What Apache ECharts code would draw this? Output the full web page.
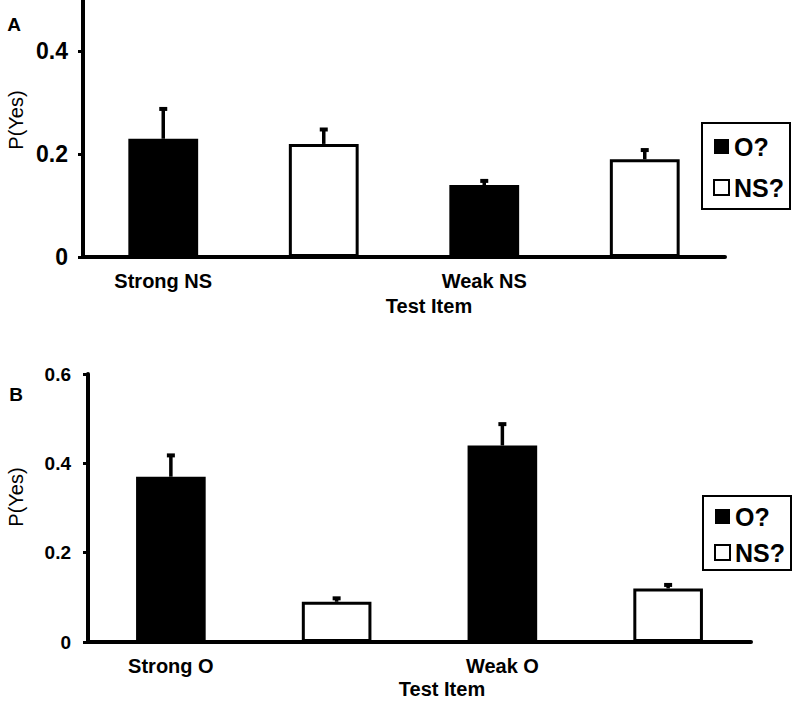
<!DOCTYPE html>
<html>
<head>
<meta charset="utf-8">
<script src="https://cdn.jsdelivr.net/npm/echarts@6/dist/echarts.min.js"></script>
<style>html,body{margin:0;padding:0;background:#fff;}#c{width:800px;height:701px;}</style>
</head>
<body>
<div id="c"></div>
<script>
// Panel A data
const catsA = ['Strong NS', '', 'Weak NS', ''];
const oValsA = [0.23, '-', 0.14, '-'];
const nsValsA = ['-', 0.22, '-', 0.19];
const errTopA = [0.29, 0.25, 0.15, 0.21];
const yTicksA = [0, 0.2, 0.4];

// Panel B data
const catsB = ['Strong O', '', 'Weak O', ''];
const oValsB = [0.37, '-', 0.44, '-'];
const nsValsB = ['-', 0.09, '-', 0.12];
const errTopB = [0.42, 0.10, 0.49, 0.13];
const yTicksB = [0, 0.2, 0.4, 0.6];

const FONT = 'Liberation Sans, Arial, sans-serif';

function barVal(o, n, i) { return o[i] !== '-' ? o[i] : n[i]; }
function errData(o, n, e) { return e.map((t, i) => [i, barVal(o, n, i), t]); }

function renderErr(params, api) {
  const base = api.coord([api.value(0), api.value(1)]);
  const top = api.coord([api.value(0), api.value(2)]);
  return {
    type: 'group',
    children: [
      { type: 'line', shape: { x1: base[0], y1: base[1], x2: top[0], y2: top[1] + 2 },
        style: { stroke: '#000', lineWidth: 3.5 } },
      { type: 'rect', shape: { x: top[0] - 4, y: top[1] - 1, width: 8, height: 4 },
        style: { fill: '#000' } }
    ]
  };
}

const axisLine = { show: true, lineStyle: { color: '#000', width: 4 } };

function xAxis(grid, cats) {
  return {
    type: 'category', gridIndex: grid, data: cats,
    axisLine: axisLine, axisTick: { show: false },
    axisLabel: { color: '#000', fontFamily: FONT, fontWeight: 'bold', fontSize: 20, margin: 14, interval: 0 }
  };
}
function yAxis(grid, max, ticks, fs, margin) {
  return {
    type: 'value', gridIndex: grid, min: 0, max: max,
    axisLine: axisLine,
    axisTick: { show: true, length: 5, lineStyle: { color: '#000', width: 3 }, customValues: ticks },
    axisLabel: { color: '#000', fontFamily: FONT, fontWeight: 'bold', fontSize: fs, margin: margin, customValues: ticks },
    splitLine: { show: false }
  };
}

const whiteStyle = { color: '#fff', borderColor: '#000', borderWidth: 3 };
const blackStyle = { color: '#000' };

function legend(left, top, pad, gap) {
  return {
    orient: 'vertical', left: left, top: top, padding: pad, itemGap: gap,
    borderColor: '#000', borderWidth: 2, backgroundColor: '#fff',
    itemWidth: 15, itemHeight: 15, itemTextGap: 6, icon: 'rect',
    textStyle: { color: '#000', fontFamily: FONT, fontSize: 25, fontWeight: 'bold' },
    data: [
      { name: 'O?', itemStyle: { color: '#000' } },
      { name: 'NS?', itemStyle: { color: '#fff', borderColor: '#000', borderWidth: 2 } }
    ]
  };
}

const option = {
  animation: false,
  backgroundColor: '#fff',
  grid: [
    { left: 83, top: 0, width: 642, height: 257 },
    { left: 88, top: 374, width: 663, height: 268 }
  ],
  xAxis: [xAxis(0, catsA), xAxis(1, catsB)],
  yAxis: [yAxis(0, 0.5, yTicksA, 23, 15), yAxis(1, 0.6, yTicksB, 19, 17)],
  legend: [legend(702, 123, [11, 6, 9, 11], 16), legend(703, 496, [8, 6, 5, 11], 11)],
  series: [
    { name: 'O?', type: 'bar', xAxisIndex: 0, yAxisIndex: 0, data: oValsA, barWidth: '43.5%', barGap: '-100%', itemStyle: blackStyle },
    { name: 'NS?', type: 'bar', xAxisIndex: 0, yAxisIndex: 0, data: nsValsA, barWidth: '43.5%', barGap: '-100%', itemStyle: whiteStyle },
    { type: 'custom', xAxisIndex: 0, yAxisIndex: 0, data: errData(oValsA, nsValsA, errTopA), renderItem: renderErr, z: 3 },
    { name: 'O?', type: 'bar', xAxisIndex: 1, yAxisIndex: 1, data: oValsB, barWidth: '42%', barGap: '-100%', itemStyle: blackStyle },
    { name: 'NS?', type: 'bar', xAxisIndex: 1, yAxisIndex: 1, data: nsValsB, barWidth: '42%', barGap: '-100%', itemStyle: whiteStyle },
    { type: 'custom', xAxisIndex: 1, yAxisIndex: 1, data: errData(oValsB, nsValsB, errTopB), renderItem: renderErr, z: 3 }
  ],
  graphic: [
    { type: 'text', x: 14, y: 24, style: { text: 'A', font: 'bold 19px ' + FONT, fill: '#000', textAlign: 'center', textVerticalAlign: 'middle' } },
    { type: 'text', x: 16, y: 394, style: { text: 'B', font: 'bold 19px ' + FONT, fill: '#000', textAlign: 'center', textVerticalAlign: 'middle' } },
    { type: 'text', x: 429, y: 306, style: { text: 'Test Item', font: 'bold 20px ' + FONT, fill: '#000', textAlign: 'center', textVerticalAlign: 'middle' } },
    { type: 'text', x: 442, y: 689, style: { text: 'Test Item', font: 'bold 20px ' + FONT, fill: '#000', textAlign: 'center', textVerticalAlign: 'middle' } },
    { type: 'text', x: 16, y: 120, rotation: Math.PI / 2, style: { text: 'P(Yes)', font: '20px ' + FONT, fill: '#000', textAlign: 'center', textVerticalAlign: 'middle' } },
    { type: 'text', x: 16, y: 497, rotation: Math.PI / 2, style: { text: 'P(Yes)', font: '20px ' + FONT, fill: '#000', textAlign: 'center', textVerticalAlign: 'middle' } }
  ]
};

const chart = echarts.init(document.getElementById('c'), null, { renderer: 'svg' });
chart.setOption(option);
</script>
</body>
</html>
